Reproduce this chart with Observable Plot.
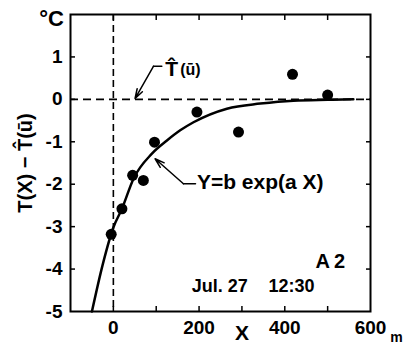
<!DOCTYPE html>
<html><head><meta charset="utf-8">
<script src="https://cdn.jsdelivr.net/npm/d3@7"></script>
<script src="https://cdn.jsdelivr.net/npm/@observablehq/plot@0.6"></script>
<style>
body{margin:0;background:#fff}
#chart svg{display:block}
</style>
</head><body><div id="chart"></div>
<script>
// observed points
const obsX = [-5, 20, 45, 70, 96, 195, 292, 418, 500];
const obsY = [-3.18, -2.58, -1.79, -1.91, -1.01, -0.30, -0.77, 0.59, 0.10];
// fitted curve Y = b exp(aX)
const fitX = [-50, -25, 0, 20, 47, 90, 125, 156, 187, 265, 343, 420, 500, 560];
const fitY = [-5.0, -3.9, -3.02, -2.58, -1.87, -1.28, -0.97, -0.73, -0.54, -0.22, -0.10, -0.03, -0.01, 0.0];
// ticks
const xTicks = [0, 100, 200, 300, 400, 500];
const xTickLabels = [0, 200, 400, 600];
const yTicks = [-4, -3, -2, -1, 0, 1];
const yTickLabels = [-5, -4, -3, -2, -1, 0, 1];
// texts
const yTitle = ["T(X) \u2212 T\u0302(\u016B)"];
const unitY = ["\u00B0C"];
const unitX = ["m"];
const xTitle = ["X"];
const hatT = ["T\u0302"];
const hatArg = ["(\u016B)"];
const fitLabel = ["Y=b exp(a X)"];
const siteLabel = ["A\u20092"];
const dateLabel = ["Jul. 27"];
const timeLabel = ["12:30"];

const obs = obsX.map((x, i) => ({x, y: obsY[i]}));
const fit = fitX.map((x, i) => ({x, y: fitY[i]}));
const fmt = d => d < 0 ? "-" + (-d) : String(d);
const txt = {text: d => d, fontWeight: "bold"};

const chart = Plot.plot({
  width: 405, height: 346,
  marginLeft: 70, marginRight: 35, marginTop: 14, marginBottom: 35,
  style: {fontFamily: "'Liberation Sans', Arial, sans-serif", fontWeight: "bold", fontSize: "19px", color: "black", background: "white"},
  x: {domain: [-100, 600]},
  y: {domain: [-5, 2]},
  marks: [
    Plot.ruleY([0], {strokeDasharray: "8,5", strokeWidth: 1.6}),
    Plot.ruleX([0], {strokeDasharray: "7,4", strokeWidth: 1.6}),
    Plot.axisX(xTicks, {anchor: "bottom", tickSize: -5, strokeWidth: 1.5, tickFormat: () => "", label: null}),
    Plot.axisX(xTicks, {anchor: "top", tickSize: -5, strokeWidth: 1.5, tickFormat: () => "", label: null}),
    Plot.axisX(xTickLabels, {anchor: "bottom", tickSize: 0, tickPadding: 9, fontSize: 19, fontWeight: "bold", label: null}),
    Plot.axisY(yTicks, {anchor: "left", tickSize: -5, strokeWidth: 1.5, tickFormat: () => "", label: null}),
    Plot.axisY(yTicks, {anchor: "right", tickSize: -5, strokeWidth: 1.5, tickFormat: () => "", label: null}),
    Plot.axisY(yTickLabels, {anchor: "left", tickSize: 0, tickPadding: 8, tickFormat: fmt, fontSize: 19, fontWeight: "bold", label: null}),
    Plot.frame({strokeWidth: 2}),
    Plot.line(fit, {x: "x", y: "y", strokeWidth: 2.5, curve: "monotone-x"}),
    Plot.dot(obs, {x: "x", y: "y", r: 5.5, fill: "black"}),
    // T-hat leader
    Plot.line([{x: 113, y: 0.78}, {x: 93.5, y: 0.78}], {x: "x", y: "y", strokeWidth: 1.5}),
    Plot.arrow([{x1: 93.5, y1: 0.78, x2: 50.6, y2: 0.02}], {x1: "x1", y1: "y1", x2: "x2", y2: "y2", strokeWidth: 1.5, headLength: 10, headAngle: 35}),
    Plot.text(hatT, {...txt, x: 121, y: 0.70, textAnchor: "start", fontSize: 21}),
    Plot.text(hatArg, {...txt, x: 156, y: 0.70, textAnchor: "start", fontSize: 16}),
    // fit leader
    Plot.line([{x: 191.6, y: -1.99}, {x: 163.5, y: -1.99}], {x: "x", y: "y", strokeWidth: 1.5}),
    Plot.arrow([{x1: 163.5, y1: -1.99, x2: 97.4, y2: -1.40}], {x1: "x1", y1: "y1", x2: "x2", y2: "y2", strokeWidth: 1.5, headLength: 10, headAngle: 35}),
    Plot.text(fitLabel, {...txt, x: 195, y: -1.96, textAnchor: "start", fontSize: 21}),
    Plot.text(siteLabel, {...txt, x: 506, y: -3.82, fontSize: 20}),
    Plot.text(dateLabel, {...txt, x: 183, y: -4.40, textAnchor: "start", fontSize: 18}),
    Plot.text(timeLabel, {...txt, x: 362, y: -4.40, textAnchor: "start", fontSize: 18}),
    Plot.text(xTitle, {...txt, x: 300, y: -5, dy: 22, fontSize: 21}),
    Plot.text(unitX, {...txt, x: 600, y: -5, dx: 26, dy: 26, fontSize: 14}),
    Plot.text(unitY, {...txt, frameAnchor: "top-left", textAnchor: "middle", lineAnchor: "middle", dx: -19, dy: 4, fontSize: 22}),
    Plot.text(yTitle, {...txt, frameAnchor: "left", textAnchor: "middle", lineAnchor: "middle", rotate: -90, dx: -45, fontSize: 20})
  ]
});
document.getElementById("chart").appendChild(chart);
</script>
</body></html>
